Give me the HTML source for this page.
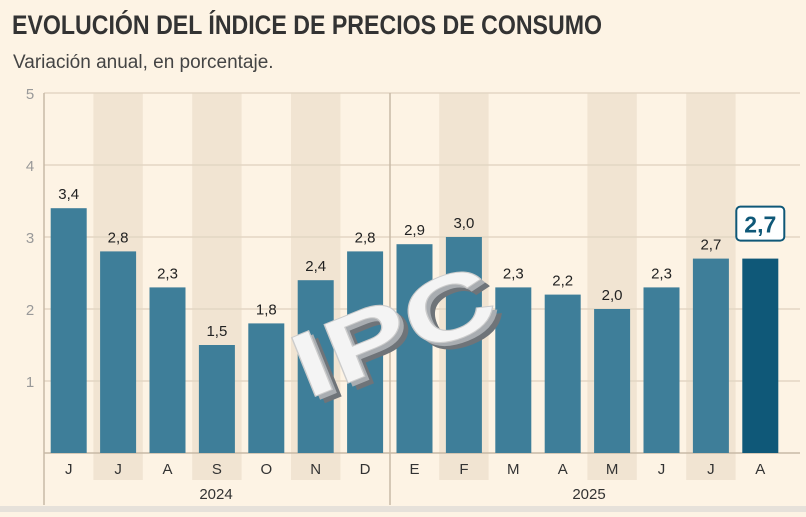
<!DOCTYPE html>
<html><head><meta charset="utf-8"><style>
body{margin:0;background:#fdf3e4;width:806px;height:512px;overflow:hidden;font-family:"Liberation Sans",sans-serif}
</style></head><body>
<svg width="806" height="512" xmlns="http://www.w3.org/2000/svg">
<rect width="806" height="512" fill="#fdf3e4"/>
<text x="12" y="34" font-size="27" font-weight="bold" fill="#333" textLength="590" lengthAdjust="spacingAndGlyphs">EVOLUCIÓN DEL ÍNDICE DE PRECIOS DE CONSUMO</text>
<text x="13" y="68" font-size="19" fill="#444">Variación anual, en porcentaje.</text>
<g id="stripes"></g><g id="grid"></g><g id="bars"></g><g id="labels"></g>
<g transform="translate(405,360) rotate(-22)">
<text x="6" y="10" font-size="92" font-weight="bold" fill="#6f7479" text-anchor="middle" textLength="210" lengthAdjust="spacingAndGlyphs">IPC</text>
<text x="3" y="5" font-size="92" font-weight="bold" fill="#a9adb1" text-anchor="middle" textLength="210" lengthAdjust="spacingAndGlyphs">IPC</text>
<text x="0" y="0" font-size="92" font-weight="bold" fill="#f4f4f4" stroke="#ccc" stroke-width="1" text-anchor="middle" textLength="210" lengthAdjust="spacingAndGlyphs">IPC</text>
</g>
<rect x="0" y="506" width="806" height="6" fill="#e6e1da"/>
</svg>
<script>
const categories=["J","J","A","S","O","N","D","E","F","M","A","M","J","J","A"];
const values=[3.4,2.8,2.3,1.5,1.8,2.4,2.8,2.9,3.0,2.3,2.2,2.0,2.3,2.7,2.7];
const valueLabels=["3,4","2,8","2,3","1,5","1,8","2,4","2,8","2,9","3,0","2,3","2,2","2,0","2,3","2,7","2,7"];
const yTicks=[1,2,3,4,5];
const years=["2024","2025"];
const NS="http://www.w3.org/2000/svg";
const x0=44,colW=49.4,y0=453,unit=72;
const xc=i=>x0+colW*i+colW/2, y=v=>y0-v*unit;
function mk(p,t,a){const e=document.createElementNS(NS,t);for(const k in a)e.setAttribute(k,a[k]);document.getElementById(p).appendChild(e);return e;}
categories.forEach((c,i)=>{if([1,3,5,8,11,13].includes(i)){const r=mk("stripes","rect",{x:x0+colW*i,y:93,width:colW,height:387,fill:"#f1e4d2"});

}});
yTicks.forEach(t=>{const l=mk("grid","line",{x1:x0,x2:800,y1:y(t),y2:y(t),stroke:"#e3d6c3","stroke-width":1.5});


const tx=mk("grid","text",{x:30,y:y(t)+6,"font-size":15,fill:"#999","text-anchor":"middle"});tx.textContent=t;

});
[[x0,93,x0,505],[390,93,390,505],[x0,y0,800,y0]].forEach(a=>{const l=mk("grid","line",{x1:a[0],y1:a[1],x2:a[2],y2:a[3],stroke:"#c8b9a6","stroke-width":1.5});

});
values.forEach((v,i)=>{const last=i===values.length-1;
const b=mk("bars","rect",{x:xc(i)-18,y:y(v),width:36,height:v*unit,fill:last?"#0f5878":"#3e7e99"});


if(last){const bx=mk("labels","rect",{x:xc(i)-24,y:y(v)-52,width:48,height:34,rx:4,fill:"#fff",stroke:"#0f5878","stroke-width":2});

}
const t=mk("labels","text",{x:xc(i),y:last?y(v)-26:y(v)-9,"font-size":last?23:15,"font-weight":last?"bold":"normal",fill:last?"#0f5878":"#222","text-anchor":"middle"});t.textContent=valueLabels[i];


const m=mk("labels","text",{x:xc(i),y:474,"font-size":15,fill:"#333","text-anchor":"middle"});m.textContent=categories[i];

});
[[216,years[0]],[589,years[1]]].forEach(a=>{const t=mk("labels","text",{x:a[0],y:499,"font-size":15,fill:"#333","text-anchor":"middle"});t.textContent=a[1];

});
</script>
</body></html>
